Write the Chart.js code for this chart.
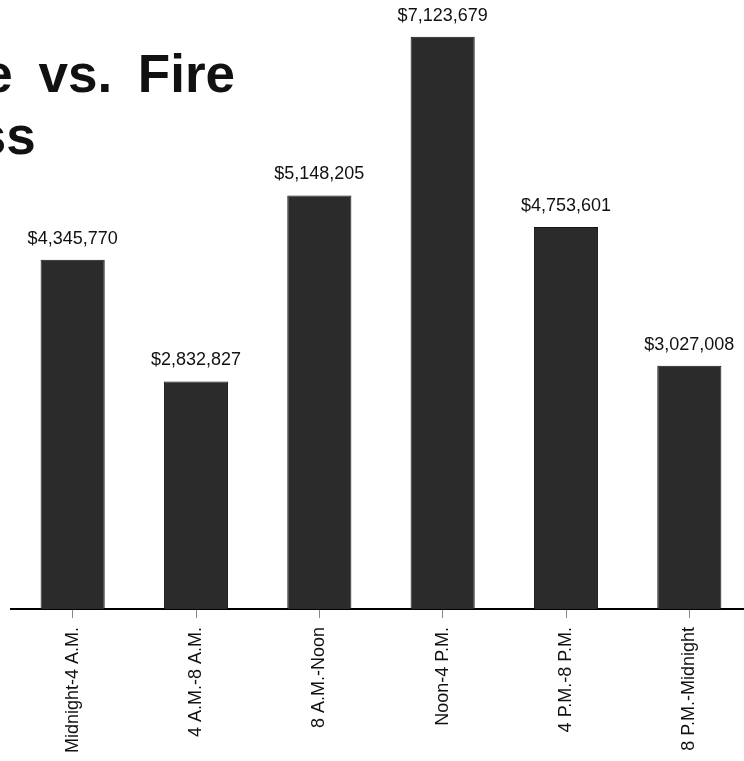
<!DOCTYPE html>
<html>
<head>
<meta charset="utf-8">
<script src="https://cdn.jsdelivr.net/npm/chart.js@4/dist/chart.umd.min.js"></script>
<style>
  html, body { margin: 0; padding: 0; background: #fff; overflow: hidden; }
  #wrap { position: relative; width: 752px; height: 761px; }
  .title {
    position: absolute;
    font: bold 53px "Liberation Sans", Arial, sans-serif;
    line-height: 62px; word-spacing: 11px; color: #111;
    white-space: nowrap; pointer-events: none;
  }
  #t1 { left: -110px; top: 43px; }
  #t2 { left: -88px; top: 105px; }
</style>
</head>
<body>
<div id="wrap">
  <canvas id="chart"></canvas>
  <div class="title" id="t1">Time vs. Fire</div>
  <div class="title" id="t2">Loss</div>
</div>
<script>
// time-of-day buckets and dollar loss per bucket
const periods = ['Midnight-4 A.M.', '4 A.M.-8 A.M.', '8 A.M.-Noon', 'Noon-4 P.M.', '4 P.M.-8 P.M.', '8 P.M.-Midnight'];
const losses = [4345770, 2832827, 5148205, 7123679, 4753601, 3027008];

function fmtDollar(v) {
  return '$' + v.toLocaleString('en-US');
}

// value labels above each bar
const barLabels = {
  id: 'barLabels',
  afterDatasetsDraw(chart) {
    const ctx = chart.ctx;
    const meta = chart.getDatasetMeta(0);
    ctx.save();
    ctx.font = '18px "Liberation Sans", Arial, sans-serif';
    ctx.fillStyle = '#111';
    ctx.textAlign = 'center';
    ctx.textBaseline = 'alphabetic';
    meta.data.forEach((bar, i) => {
      ctx.fillText(fmtDollar(losses[i]), bar.x, bar.y - 16);
    });
    ctx.restore();
  }
};

new Chart(document.getElementById('chart'), {
  type: 'bar',
  data: {
    labels: periods,
    datasets: [{
      data: losses,
      backgroundColor: '#2b2b2b',
      borderColor: '#151515',
      borderWidth: 1,
      barPercentage: 0.52,
      categoryPercentage: 1
    }]
  },
  options: {
    responsive: true,
    maintainAspectRatio: false,
    animation: false,
    layout: { padding: { left: 11, right: 1, top: 0, bottom: 0 } },
    plugins: {
      legend: { display: false },
      tooltip: { enabled: false }
    },
    scales: {
      y: {
        display: false,
        min: 0,
        max: 7580000
      },
      x: {
        afterFit: s => { s.height = 152; },
        border: { display: true, color: '#000', width: 2 },
        grid: {
          display: true,
          offset: false,
          drawOnChartArea: false,
          drawTicks: true,
          tickLength: 9,
          color: '#888',
          lineWidth: 1
        },
        ticks: {
          maxRotation: 90,
          minRotation: 90,
          padding: 9,
          color: '#111',
          font: { family: '"Liberation Sans", Arial, sans-serif', size: 18 }
        }
      }
    }
  },
  plugins: [barLabels]
});
</script>
</body>
</html>
